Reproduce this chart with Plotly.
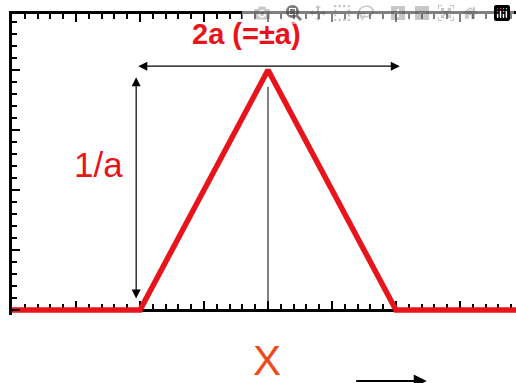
import plotly.graph_objects as go

# Triangle distribution with half-width a and peak height 1/a
a = 2.0
x_values = [-4.0, -a, 0.0, a, 3.875]
y_values = [0.0, 0.0, 1.0 / a, 0.0, 0.0]

RED = "#e8141c"
ORANGE = "#ee4a1c"
FONT = "Liberation Sans, Arial, sans-serif"

# page body margin is removed (post_script below), so the figure fills the window
W, H = 516, 383
T, B, L, R = 14, 60 + 8, 12, 0
plot_h = H - T - B
zero_px_from_bottom = 5       # y=0 sits 5 px above plot-area bottom
px_per_y = 480.0
y_lo = -zero_px_from_bottom / px_per_y
y_hi = y_lo + plot_h / px_per_y

def py(px):
    """paper fraction for a window pixel row (from top)"""
    return (H - B - px) / plot_h

fig = go.Figure()
fig.add_trace(go.Scatter(
    x=x_values, y=y_values, mode="lines",
    line=dict(color=RED, width=5.5), hoverinfo="skip", showlegend=False,
))
fig.add_trace(go.Scatter(x=[x_values[0]], y=[0], xaxis="x2", mode="markers",
                         marker=dict(opacity=0), showlegend=False, hoverinfo="skip"))

tick_common = dict(
    showgrid=False, zeroline=False, showticklabels=False, automargin=False,
    ticks="inside", ticklen=8, tickwidth=2, tickcolor="black",
    showline=True, linecolor="black", linewidth=2.5,
)
minor_common = dict(ticks="inside", ticklen=5, tickwidth=1.6, tickcolor="black")

fig.update_layout(
    width=W, height=H,
    margin=dict(l=L, r=R, t=T, b=B, pad=0, autoexpand=False),
    paper_bgcolor="white", plot_bgcolor="rgba(0,0,0,0)",
    xaxis=dict(
        range=[x_values[0], x_values[-1]], dtick=1, tick0=0,
        anchor="free", position=zero_px_from_bottom / plot_h,
        layer="below traces",
        minor=dict(dtick=0.2, **minor_common),
        **tick_common,
    ),
    xaxis2=dict(
        overlaying="x", matches="x", side="top", anchor="y",
        dtick=1, tick0=0,
        minor=dict(dtick=0.2, **minor_common),
        **tick_common,
    ),
    yaxis=dict(
        range=[y_lo, y_hi], dtick=0.125, tick0=0,
        minor=dict(dtick=0.025, **minor_common),
        **tick_common,
    ),
)

fig.add_shape(type="line", xref="x", yref="y", x0=0, x1=0, y0=0, y1=0.465,
              line=dict(color="black", width=1))

arrow_style = dict(showarrow=True, arrowhead=2, arrowsize=1.5, arrowwidth=1.2,
                   arrowcolor="black", arrowside="end+start", text="",
                   axref="x", ayref="y", xref="x", yref="y", standoff=0, startstandoff=0)
fig.add_annotation(x=a + 0.06, y=0.508, ax=-a - 0.05, ay=0.508, **arrow_style)
fig.add_annotation(x=-a - 0.06, y=0.485, ax=-a - 0.06, ay=0.021, **arrow_style)

lbl = dict(showarrow=False, xanchor="center", yanchor="middle")
fig.add_annotation(x=-0.34, y=0.575, text="<b>2a (=±a)</b>",
                   font=dict(family=FONT, size=29, color=RED), xref="x", yref="y", **lbl)
fig.add_annotation(x=-2.65, y=0.303, text="1/a",
                   font=dict(family=FONT, size=35, color=RED), xref="x", yref="y", **lbl)
fig.add_annotation(x=-0.01, y=py(360), text="X",
                   font=dict(family=FONT, size=42, color=ORANGE), xref="x", yref="paper", **lbl)
fig.add_annotation(x=2.48, y=py(381), ax=-72, ay=0, showarrow=True, arrowhead=2,
                   arrowsize=1.3, arrowwidth=2, arrowcolor="black", text="",
                   xref="x", yref="paper", standoff=0)

fig.write_html(
    "out.html",
    post_script="document.body.style.margin='0';document.body.style.overflow='hidden';",
)
